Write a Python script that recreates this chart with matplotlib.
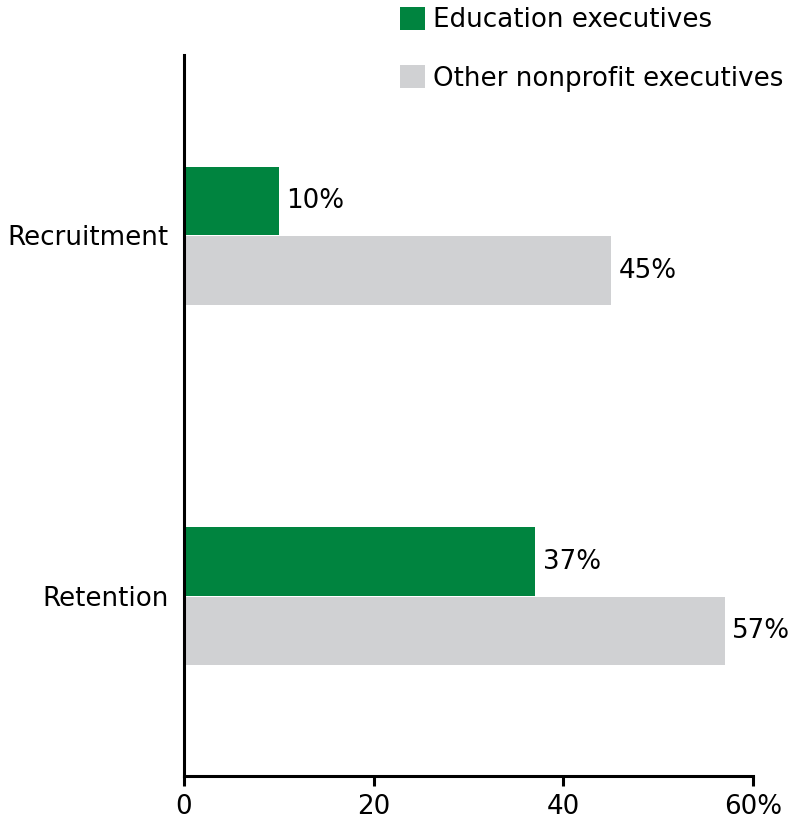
import matplotlib
matplotlib.use("Agg")
import matplotlib.pyplot as plt
from matplotlib.patches import Patch

categories = ["Recruitment", "Retention"]
education = [10, 37]
other = [45, 57]
series_names = ["Education executives", "Other nonprofit executives"]
xticks = [0, 20, 40, 60]
xticklabels = ["0", "20", "40", "60%"]

green = "#00843F"
gray = "#D0D1D3"

plt.rcParams['font.family'] = ['DejaVu Sans']
fig = plt.figure(figsize=(7.92, 8.19), dpi=100)
ax = fig.add_axes([184/792, 1-776/819, 569/792, (776-55)/819])

ys = list(range(len(categories)))
h = 0.19
b1 = ax.barh([y - h/2 for y in ys], education, height=h, color=green, label=series_names[0])
b2 = ax.barh([y + h/2 + 0.003 for y in ys], other, height=h, color=gray, label=series_names[1])

fs = 18.8
for bars, vals in ((b1, education), (b2, other)):
    for rect, v in zip(bars, vals):
        ax.annotate(f"{v}%", (v, rect.get_y() + rect.get_height()/2),
                    xytext=(5.5, 0), textcoords="offset points",
                    va="center", ha="left", fontsize=fs)

ax.set_xlim(0, 60)
ax.set_ylim(1.5, -0.5)
ax.set_yticks(ys)
ax.set_yticklabels(categories, fontsize=fs)
ax.set_xticks(xticks)
ax.set_xticklabels(xticklabels, fontsize=fs)
ax.tick_params(axis='y', length=0, pad=11)
ax.tick_params(axis='x', length=7, width=2.2, pad=6)
for s in ("top", "right"):
    ax.spines[s].set_visible(False)
for s in ("left", "bottom"):
    ax.spines[s].set_linewidth(2.2)

handles = [Patch(facecolor=green, edgecolor="none"), Patch(facecolor=gray, edgecolor="none")]
fig.legend(handles, series_names, loc="upper left", bbox_to_anchor=(395/792, 1 - 2/819),
           frameon=False, fontsize=fs, handlelength=0.95, handleheight=0.95,
           handletextpad=0.32, labelspacing=1.22, borderpad=0.2, borderaxespad=0)

fig.savefig("out.png", dpi=100)
